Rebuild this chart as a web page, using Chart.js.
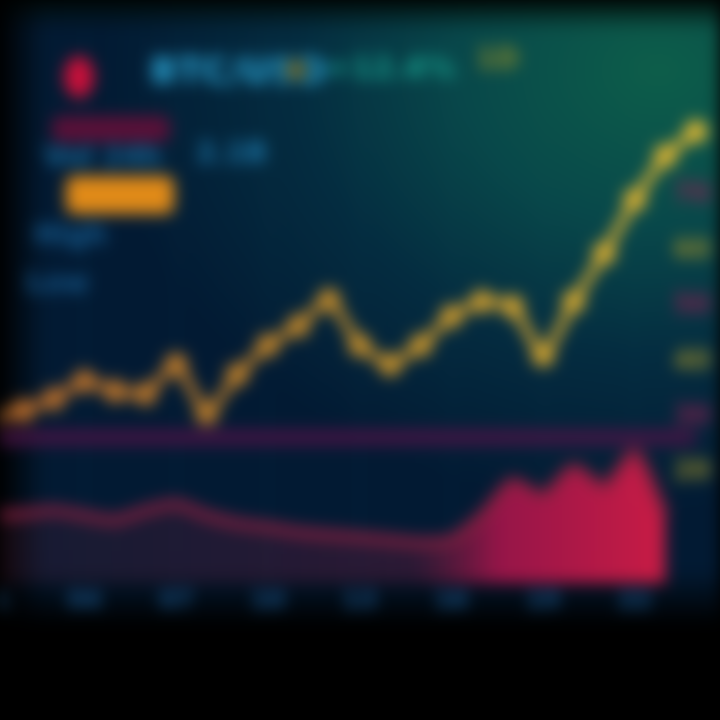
<!DOCTYPE html>
<html>
<head>
<meta charset="utf-8">
<script src="https://cdn.jsdelivr.net/npm/chart.js@4.4.1/dist/chart.umd.min.js"></script>
<style>
  html, body { margin: 0; padding: 0; width: 720px; height: 720px; overflow: hidden; background: #000; }
  #wrap {
    position: relative; width: 720px; height: 720px; overflow: hidden;
    background:
      linear-gradient(to right, rgba(0,0,0,0.95) 0px, rgba(0,0,0,0) 45px),
      linear-gradient(to top, rgba(0,0,0,1) 0px, rgba(0,0,0,1) 95px, rgba(0,0,0,0) 150px),
      linear-gradient(to bottom, rgba(0,10,5,0.9) 0px, rgba(0,10,5,0) 30px),
      radial-gradient(ellipse 560px 440px at 660px 70px, #0d5e4a 0%, #08484a 35%, #042c40 65%, #021a33 100%);
    filter: blur(8px);
  }
  #chart { position: absolute; left: -28px; top: 0; }
  .lg { position: absolute; font-family: "DejaVu Sans", sans-serif; font-weight: bold; white-space: nowrap; }
  .dot { position: absolute; border-radius: 50%; }
  .bar { position: absolute; border-radius: 8px; }
</style>
</head>
<body>
<div id="wrap">
  <canvas id="chart" width="740" height="720"></canvas>
  <div class="dot" style="left:64px;top:56px;width:30px;height:42px;background:#c8103a;"></div>
  <div class="lg" style="left:150px;top:50px;font-size:36px;color:#2aa6d6;">BTC/USD</div>
  <div class="dot" style="left:286px;top:60px;width:20px;height:20px;background:#6a5a1a;"></div>
  <div class="lg" style="left:326px;top:50px;font-size:30px;color:#17a08e;">+12.4%</div>
  <div class="lg" style="left:476px;top:42px;font-size:28px;color:#8a8a2a;">1D</div>
  <div class="bar" style="left:52px;top:116px;width:118px;height:26px;background:#5a1038;"></div>
  <div class="lg" style="left:44px;top:140px;font-size:28px;color:#1a6a9a;">Vol 24h</div>
  <div class="lg" style="left:196px;top:136px;font-size:28px;color:#1b76a8;">2.1B</div>
  <div class="bar" style="left:66px;top:176px;width:108px;height:38px;background:#e08a18;"></div>
  <div class="lg" style="left:34px;top:218px;font-size:28px;color:#165c90;">High</div>
  <div class="lg" style="left:26px;top:266px;font-size:28px;color:#15578a;">Low</div>
</div>
<script>
const labels = ['01', '02', '03', '04', '05', '06', '07', '08', '09', '10', '11', '12',
  '13', '14', '15', '16', '17', '18', '19', '20', '21', '22', '23', '24'];
const priceValues = [29.8, 31.2, 33.3, 36.5, 34.7, 34.2, 39.5, 30.7, 37.7, 43.0, 46.5, 51.2,
  43.0, 39.5, 43.0, 48.2, 50.9, 50.0, 41.2, 50.9, 59.6, 69.3, 77.2, 81.6];
const volumeValues = [12.3, 12.6, 13.2, 12.3, 11.4, 13.2, 14.4, 12.3, 10.9, 10.2, 9.3, 8.8,
  8.4, 7.9, 7.4, 7.9, 12.3, 18.4, 15.8, 21.0, 17.5, 23.7, 12.3, null];
const supportValues = [26.3, 26.3, 26.3, 26.3, 26.3, 26.3, 26.3, 26.3, 26.3, 26.3, 26.3, 26.3,
  26.3, 26.3, 26.3, 26.3, 26.3, 26.3, 26.3, 26.3, 26.3, 26.3, 26.3, 26.3];

const ctx = document.getElementById('chart');

function redFill(context) {
  const area = context.chart.chartArea;
  if (!area) return 'rgba(200,20,70,0.4)';
  const g = context.chart.ctx.createLinearGradient(area.left, 0, area.right, 0);
  g.addColorStop(0, 'rgba(100,30,50,0.2)');
  g.addColorStop(0.6, 'rgba(140,25,60,0.3)');
  g.addColorStop(0.72, 'rgba(200,20,80,0.75)');
  g.addColorStop(1, 'rgba(235,30,70,0.9)');
  return g;
}

function priceStroke(context) {
  const area = context.chart.chartArea;
  if (!area) return '#d89a28';
  const g = context.chart.ctx.createLinearGradient(area.left, 0, area.right, 0);
  g.addColorStop(0, '#b8682a');
  g.addColorStop(0.5, '#c08a2a');
  g.addColorStop(1, '#e0b832');
  return g;
}

const chart = new Chart(ctx, {
  type: 'line',
  data: {
    labels: labels,
    datasets: [
      {
        label: 'Price',
        data: priceValues,
        borderColor: priceStroke,
        backgroundColor: priceStroke,
        borderWidth: 9,
        pointRadius: 7,
        tension: 0.15,
        order: 1
      },
      {
        label: 'Support',
        data: supportValues,
        borderColor: 'rgba(75,20,70,0.85)',
        borderWidth: 16,
        pointRadius: 0,
        order: 3
      },
      {
        label: 'Volume',
        data: volumeValues,
        borderColor: '#8a2040',
        backgroundColor: redFill,
        borderWidth: 9,
        pointRadius: 0,
        fill: 'origin',
        tension: 0.2,
        order: 2
      }
    ]
  },
  options: {
    responsive: false,
    animation: false,
    layout: { padding: { left: 0, right: 0, top: 20, bottom: 100 } },
    plugins: { legend: { display: false }, tooltip: { enabled: false } },
    scales: {
      x: {
        grid: { color: 'rgba(30,100,110,0.25)', drawTicks: false },
        border: { display: false },
        ticks: {
          color: '#1a5488',
          font: { size: 24, weight: 'bold', family: 'DejaVu Sans' },
          maxTicksLimit: 11,
          maxRotation: 0,
          padding: 4
        }
      },
      y: {
        position: 'right',
        min: 0,
        max: 100,
        grid: { display: false },
        border: { display: false },
        afterFit: (axis) => { axis.width = 0; },
        ticks: {
          mirror: true,
          stepSize: 10,
          padding: 14,
          font: { size: 26, weight: 'bold', family: 'DejaVu Sans' },
          color: (c) => (c.index % 2 === 0 ? '#9a8c2a' : '#8a2050'),
          callback: (v) => (v >= 20 && v <= 70 ? v : '')
        }
      }
    }
  }
});
</script>
</body>
</html>
